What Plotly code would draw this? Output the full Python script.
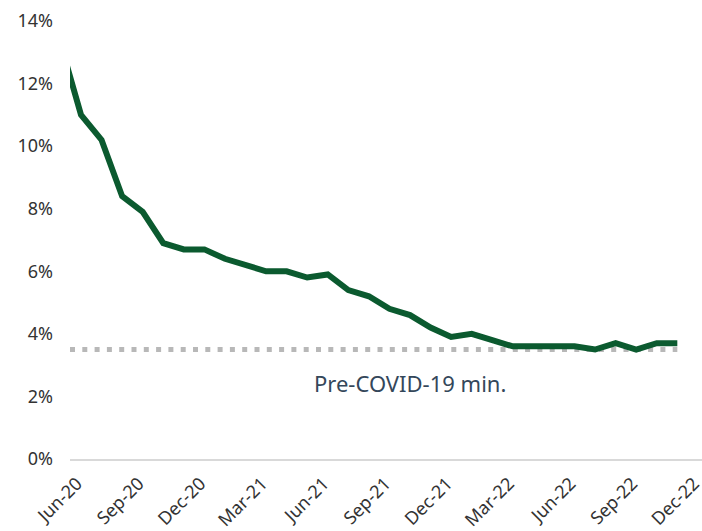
import plotly.graph_objects as go

# Monthly unemployment rate (%), May-20 .. Nov-22 (May-20 partly outside the axis range)
months = ["May-20", "Jun-20", "Jul-20", "Aug-20", "Sep-20", "Oct-20", "Nov-20", "Dec-20",
          "Jan-21", "Feb-21", "Mar-21", "Apr-21", "May-21", "Jun-21", "Jul-21", "Aug-21",
          "Sep-21", "Oct-21", "Nov-21", "Dec-21", "Jan-22", "Feb-22", "Mar-22", "Apr-22",
          "May-22", "Jun-22", "Jul-22", "Aug-22", "Sep-22", "Oct-22", "Nov-22"]
rate = [13.3, 11.0, 10.2, 8.4, 7.9, 6.9, 6.7, 6.7,
        6.4, 6.2, 6.0, 6.0, 5.8, 5.9, 5.4, 5.2,
        4.8, 4.6, 4.2, 3.9, 4.0, 3.8, 3.6, 3.6,
        3.6, 3.6, 3.5, 3.7, 3.5, 3.7, 3.7]
pre_covid_min = 3.5
tick_labels = ["Jun-20", "Sep-20", "Dec-20", "Mar-21", "Jun-21", "Sep-21",
               "Dec-21", "Mar-22", "Jun-22", "Sep-22", "Dec-22"]

# month index relative to Jun-20
x_idx = list(range(-1, len(months) - 1))
tick_pos = list(range(0, 3 * len(tick_labels), 3))
x_lo, x_hi = -0.535, 30.2

fig = go.Figure()
fig.add_trace(go.Scatter(
    x=[x_lo, x_idx[-1]], y=[pre_covid_min, pre_covid_min], mode="lines",
    line=dict(color="#b8b8b8", width=5, dash="5px,7.3px"), hoverinfo="skip"))
fig.add_trace(go.Scatter(
    x=x_idx, y=rate, mode="lines",
    line=dict(color="#0b5a2f", width=6), hoverinfo="skip"))

fig.add_annotation(x=16, y=2.43, xref="x", yref="y", text="Pre-COVID-19 min.",
                   showarrow=False, font=dict(size=22, color="#34475a"))

font_family = "Noto Sans, sans-serif"
fig.update_layout(
    width=702, height=531,
    margin=dict(l=70, r=0, t=21, b=72),
    plot_bgcolor="white", paper_bgcolor="white",
    showlegend=False,
    font=dict(family=font_family, size=18, color="#333333"),
    xaxis=dict(range=[x_lo, x_hi], tickmode="array", tickvals=tick_pos,
               ticktext=tick_labels, tickangle=-45, showgrid=False, zeroline=False,
               showline=True, linecolor="#d9d9d9", linewidth=2, ticks="",
               automargin=False, ticklabelstandoff=5, ticklabelshift=-4,
               ticklabeloverflow="allow",
               tickfont=dict(size=18, color="#333333")),
    yaxis=dict(range=[0, 14], dtick=2, ticksuffix="%", showgrid=False,
               zeroline=False, showline=False, ticks="", ticklabelstandoff=16,
               automargin=False, tickfont=dict(size=18, color="#333333")),
)

fig.write_html("out.html", config={"displayModeBar": False},
               post_script="document.body.style.margin='0';document.body.style.overflow='hidden';")
